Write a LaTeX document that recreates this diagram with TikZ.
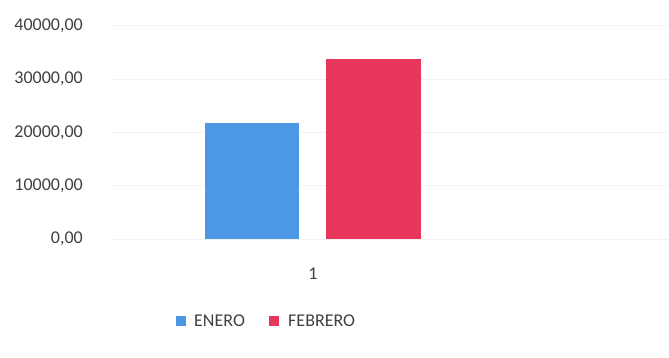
\documentclass[tikz,border=0pt]{standalone}
\usepackage{fontspec}
\setmainfont{Carlito}
\usepackage{tikz}

\definecolor{enero}{RGB}{76,152,228}
\definecolor{febrero}{RGB}{232,54,92}
\definecolor{etiqueta}{RGB}{64,64,64}

\begin{document}
\begin{tikzpicture}[x=1pt,y=1pt,
    etiq/.style={text=etiqueta,font=\fontsize{18}{20}\selectfont,inner sep=0pt},
    rejilla/.style={black!5,line width=0.6pt}]
        \useasboundingbox (0, 0) rectangle (669, 357);
        % rejilla y ejes
        \foreach \k/\val in {0/{0,00}, 1/{10000,00}, 2/{20000,00}, 3/{30000,00}, 4/{40000,00}} {
          \draw[rejilla] (110, 118+53.3*\k) -- (669, 118+53.3*\k);
          \node[etiq,anchor=east] (tick\k) at (83, 118+53.3*\k) {\val};
        }
        % barras
        \fill[enero] (205, 118) rectangle (299, 234.2);
        \fill[febrero] (326, 118) rectangle (421, 297.6);
        \node[etiq] (cat) at (313, 83) {1};
        % leyenda
        \fill[enero] (176, 31) rectangle (186, 41);
        \node[etiq,anchor=west] (ene) at (194, 36) {ENERO};
        \fill[febrero] (269, 31) rectangle (279, 41);
        \node[etiq,anchor=west] (feb) at (288, 36) {FEBRERO};
      \end{tikzpicture}
\end{document}
